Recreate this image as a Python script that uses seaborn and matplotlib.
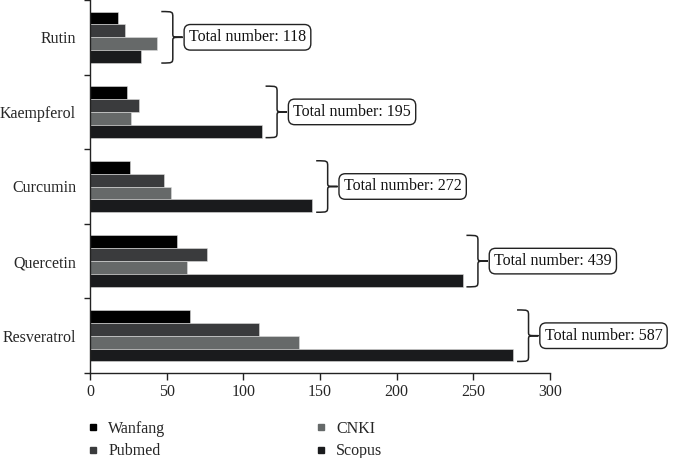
import matplotlib
matplotlib.use("Agg")
import matplotlib.pyplot as plt
from matplotlib.path import Path
from matplotlib.patches import PathPatch
from matplotlib.lines import Line2D
import seaborn as sns
import pandas as pd

compounds = ["Rutin", "Kaempferol", "Curcumin", "Quercetin", "Resveratrol"]
sources = ["Wanfang", "Pubmed", "CNKI", "Scopus"]
wanfang = [18, 24, 26, 57, 65]
pubmed = [23, 32, 48, 76, 110]
cnki = [44, 27, 53, 63, 136]
scopus = [33, 112, 145, 243, 276]
colors = ["#000000", "#3a3b3d", "#656969", "#1a1b1d"]
xticks = [0, 50, 100, 150, 200, 250, 300]

series = {"Wanfang": wanfang, "Pubmed": pubmed, "CNKI": cnki, "Scopus": scopus}
rows = []
for s in sources:
    for c, v in zip(compounds, series[s]):
        rows.append({"Compound": c, "Source": s, "Count": v})
df = pd.DataFrame(rows)

sns.set_theme(style="ticks")
plt.rcParams["font.family"] = ["Liberation Serif", "DejaVu Serif"]

fig = plt.figure(figsize=(6.73, 4.58), dpi=100)
ax = fig.add_axes([90 / 673, 1 - 373 / 458, 460 / 673, 373 / 458])

sns.barplot(data=df, y="Compound", x="Count", hue="Source", order=compounds,
            hue_order=sources, palette=colors, orient="h", width=0.69,
            edgecolor="#dddddd", linewidth=0.4, legend=False, ax=ax)

ax.set_xlim(0, 300)
ax.set_ylim(4.5, -0.5)
ax.set_xticks(xticks)
ax.set_xticklabels([str(t) for t in xticks], fontsize=11.5)
ax.set_yticks(range(len(compounds)))
ax.set_yticklabels(compounds, fontsize=11.5)
ax.set_yticks([i - 0.5 for i in range(len(compounds) + 1)], minor=True)
ax.tick_params(axis="y", which="major", length=0, pad=10)
ax.tick_params(axis="y", which="minor", length=4, width=1, color="#222222", direction="out")
ax.tick_params(axis="x", which="major", length=5, width=1, color="#222222", pad=3)
ax.set_xlabel("")
ax.set_ylabel("")
for sp in ["top", "right"]:
    ax.spines[sp].set_visible(False)
for sp in ["left", "bottom"]:
    ax.spines[sp].set_color("#222222")
    ax.spines[sp].set_linewidth(1)

# braces and total boxes
half = 0.345
for i, c in enumerate(compounds):
    vals = [series[s][i] for s in sources]
    total = sum(vals)
    x0 = max(vals) + 2.5
    xv = x0 + 7.5
    xt = x0 + 14
    yt, yb = i - half, i + half
    verts = [
        (x0, yt), (xv, yt), (xv, yt), (xv, yt + 0.08),
        (xv, i - 0.05),
        (xv, i), (xv, i), (xt, i),
        (xv, i), (xv, i), (xv, i + 0.05),
        (xv, yb - 0.08),
        (xv, yb), (xv, yb), (x0, yb),
    ]
    codes = [Path.MOVETO, Path.CURVE4, Path.CURVE4, Path.CURVE4,
             Path.LINETO,
             Path.CURVE4, Path.CURVE4, Path.CURVE4,
             Path.CURVE4, Path.CURVE4, Path.CURVE4,
             Path.LINETO,
             Path.CURVE4, Path.CURVE4, Path.CURVE4]
    ax.add_patch(PathPatch(Path(verts, codes), fill=False, ec="#222222", lw=1.1,
                           clip_on=False))
    ax.text(xt + 4, i, f"Total number: {total}", ha="left", va="center",
            fontsize=11.5, color="#111111", clip_on=False,
            bbox=dict(boxstyle="round,pad=0.3,rounding_size=0.4", fc="white",
                      ec="#222222", lw=1))

# legend
handles = [Line2D([0], [0], marker="s", linestyle="none", markersize=5,
                  markerfacecolor=col, markeredgecolor=col) for col in colors]
leg1 = fig.legend(handles[:2], sources[:2], loc="upper left",
                  bbox_to_anchor=(85 / 673, 1 - 421 / 458), frameon=False,
                  fontsize=11.5, handlelength=1, handletextpad=0.45,
                  labelspacing=0.4, borderpad=0, borderaxespad=0)
leg2 = fig.legend(handles[2:], sources[2:], loc="upper left",
                  bbox_to_anchor=(313 / 673, 1 - 421 / 458), frameon=False,
                  fontsize=11.5, handlelength=1, handletextpad=0.45,
                  labelspacing=0.4, borderpad=0, borderaxespad=0)

fig.savefig("out.png", dpi=100)
